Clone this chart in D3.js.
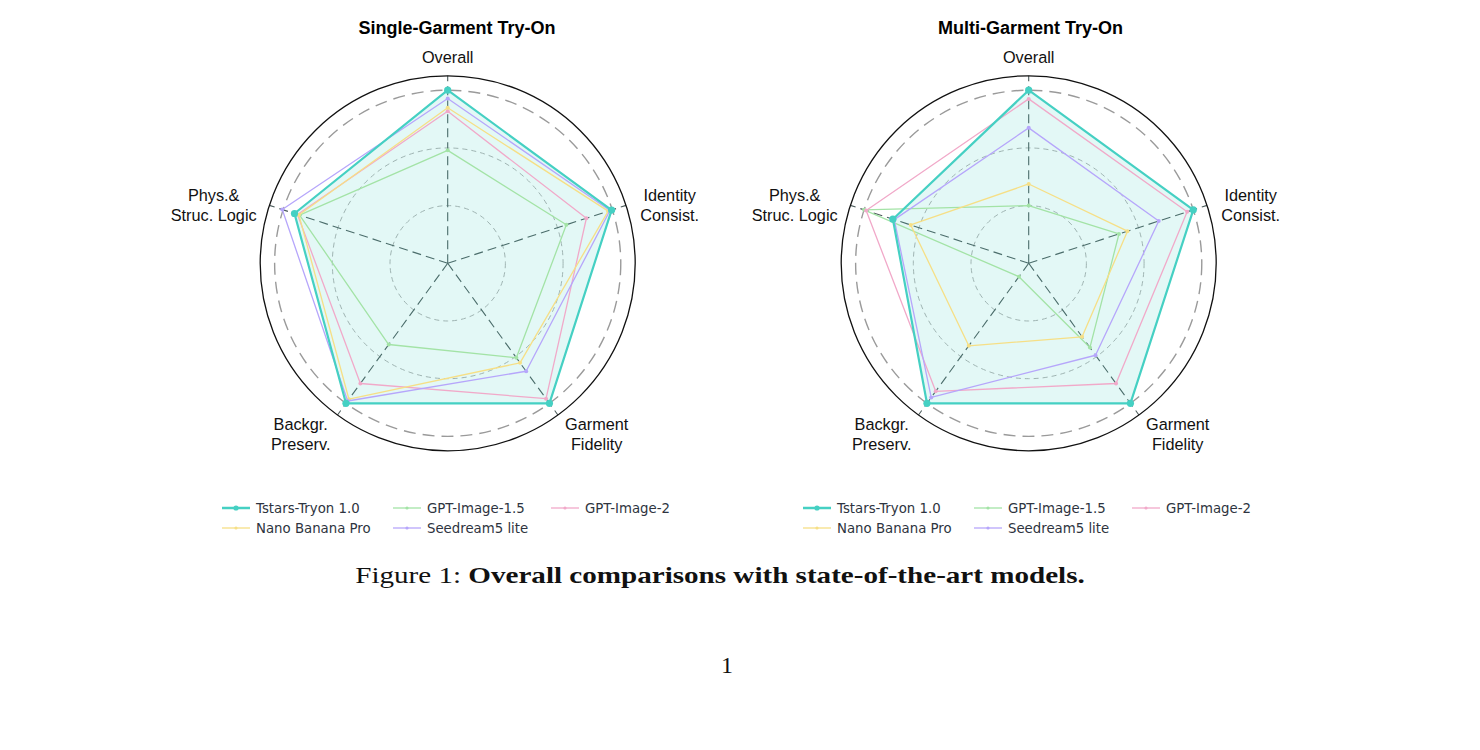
<!DOCTYPE html>
<html>
<head>
<meta charset="utf-8">
<title>Radar comparison</title>
<style>
  body { margin: 0; background: #fff; }
</style>
</head>
<body>
<div id="container"></div>
<script src="https://d3js.org/d3.v7.min.js"></script>
<script>

// axes, clockwise from the top
const axes = ["Overall", "Identity\nConsist.", "Garment\nFidelity", "Backgr.\nPreserv.", "Phys.&\nStruc. Logic"];
const models = ["Tstars-Tryon 1.0", "GPT-Image-1.5", "GPT-Image-2", "Nano Banana Pro", "Seedream5 lite"];
const panels = ["Single-Garment Try-On", "Multi-Garment Try-On"];
const ringTicks = [0.4, 0.8, 1.2];

// values (normalized radial units)
const singleTstars   = [1.20, 1.195, 1.20, 1.20, 1.117];
const singleGpt15    = [0.783, 0.865, 0.81, 0.696, 1.08];
const singleGpt2     = [1.054, 1.011, 1.16, 1.03, 1.095];
const singleNano     = [1.078, 1.17, 0.853, 1.165, 1.085];
const singleSeedream = [1.143, 1.183, 0.925, 1.18, 1.206];

const multiTstars   = [1.20, 1.20, 1.20, 1.20, 0.99];
const multiGpt15    = [0.40, 0.658, 0.722, 0.115, 1.20];
const multiGpt2     = [1.14, 1.155, 1.03, 1.097, 1.185];
const multiNano     = [0.55, 0.72, 0.63, 0.707, 0.86];
const multiSeedream = [0.939, 0.948, 0.788, 1.15, 0.98];

const panelData = [
  [singleTstars, singleGpt15, singleGpt2, singleNano, singleSeedream],
  [multiTstars, multiGpt15, multiGpt2, multiNano, multiSeedream]
];

const colors = ["#45d0c3", "#a3e3a6", "#f1a9c9", "#f6df86", "#b6a6fb"];

const width = 1480, height = 750;
const R = 187.5;
const centers = [[447.7, 263.3], [1028.7, 263.3]];
const titleX = [457, 1030.5];
// label block centres relative to the chart centre
const labelOffsets = [[0, -206], [222, -58], [149, 171], [-147, 171], [-234, -58]];

const svg = d3.select("#container").append("svg")
  .attr("width", width)
  .attr("height", height)
  .style("font-family", "'Liberation Sans', Arial, sans-serif");

const rScale = d3.scaleLinear().domain([0, 1.3]).range([0, R]);
const angle = d3.scaleLinear().domain([0, axes.length]).range([0, 2 * Math.PI]);

const line = d3.lineRadial()
  .angle((d, i) => angle(i))
  .radius(d => rScale(d))
  .curve(d3.curveLinearClosed);

panels.forEach((title, p) => {
  const [cx, cy] = centers[p];
  const g = svg.append("g").attr("transform", `translate(${cx},${cy})`);

  svg.append("text")
    .attr("x", titleX[p]).attr("y", 34)
    .attr("text-anchor", "middle")
    .style("font-weight", "bold")
    .style("font-size", "18px")
    .text(title);

  // rings
  g.selectAll(".ring").data(ringTicks).enter().append("circle")
    .attr("r", d => rScale(d))
    .attr("fill", "none")
    .attr("stroke", (d, i) => i === 2 ? "#9a9a9a" : "#b0b0b0")
    .attr("stroke-width", (d, i) => i === 2 ? 1.4 : 1)
    .attr("stroke-dasharray", (d, i) => i === 2 ? "12,7" : "5,4");

  // spokes
  axes.forEach((a, i) => {
    const t = angle(i);
    g.append("line")
      .attr("x1", 0).attr("y1", 0)
      .attr("x2", R * Math.sin(t)).attr("y2", -R * Math.cos(t))
      .attr("stroke", "#4d5c5c")
      .attr("stroke-width", 1.1)
      .attr("stroke-dasharray", "9,5");
  });

  g.append("circle").attr("r", R)
    .attr("fill", "none").attr("stroke", "#111").attr("stroke-width", 1.3);

  // axis labels
  axes.forEach((a, i) => {
    const parts = a.split("\n");
    const [dx, dy] = labelOffsets[i];
    const t = g.append("text")
      .attr("text-anchor", "middle")
      .style("font-size", "16.3px")
      .attr("fill", "#111");
    parts.forEach((s, k) => {
      t.append("tspan")
        .attr("x", dx)
        .attr("y", dy + 5.5 + (k - (parts.length - 1) / 2) * 20)
        .text(s);
    });
  });

  const series = panelData[p];

  // fill for the lead model
  g.append("path")
    .attr("d", line(series[0]))
    .attr("fill", colors[0])
    .attr("fill-opacity", 0.15)
    .attr("stroke", "none");

  const order = [1, 2, 3, 4, 0];
  order.forEach(s => {
    const lead = s === 0;
    g.append("path")
      .attr("d", line(series[s]))
      .attr("fill", "none")
      .attr("stroke", colors[s])
      .attr("stroke-width", lead ? 2.2 : 1.3)
      .attr("stroke-linejoin", "round");
    g.selectAll(null).data(series[s]).enter().append("circle")
      .attr("cx", (d, i) => rScale(d) * Math.sin(angle(i)))
      .attr("cy", (d, i) => -rScale(d) * Math.cos(angle(i)))
      .attr("r", lead ? 3.6 : 2)
      .attr("fill", colors[s]);
  });

  // legend
  const lx = cx - 225.7, ly = 508;
  const legendPos = [[0, 0], [171, 0], [329, 0], [0, 20], [171, 20]];
  models.forEach((m, s) => {
    const lead = s === 0;
    const [ox, oy] = legendPos[s];
    const lg = svg.append("g").attr("transform", `translate(${lx + ox},${ly + oy})`);
    lg.append("line").attr("x1", 0).attr("x2", 28)
      .attr("stroke", colors[s]).attr("stroke-width", lead ? 2.5 : 1.3);
    lg.append("circle").attr("cx", 14).attr("r", lead ? 2.6 : 1.6).attr("fill", colors[s]);
    lg.append("text").attr("x", 34).attr("y", 5)
      .style("font-family", "'DejaVu Sans', sans-serif")
      .style("font-size", "13.3px")
      .attr("fill", "#2e3440")
      .text(m);
  });
});

// caption, stretched horizontally to the book-face width of the original
const capG = svg.append("g");
const cap = capG.append("text")
  .attr("x", 0).attr("y", 0)
  .attr("text-anchor", "middle")
  .style("font-family", "'Liberation Serif', 'DejaVu Serif', serif")
  .style("font-size", "23.5px")
  .attr("fill", "#111");
cap.append("tspan").text("Figure 1: ");
cap.append("tspan").style("font-weight", "bold").text("Overall comparisons with state-of-the-art models.");
const capW = cap.node().getComputedTextLength();
capG.attr("transform", `translate(720,583) scale(${730 / capW},1)`);

svg.append("text")
  .attr("x", 727).attr("y", 673)
  .attr("text-anchor", "middle")
  .style("font-family", "'Liberation Serif', 'DejaVu Serif', serif")
  .style("font-size", "24px")
  .attr("fill", "#111")
  .text("1");

</script>
</body>
</html>
